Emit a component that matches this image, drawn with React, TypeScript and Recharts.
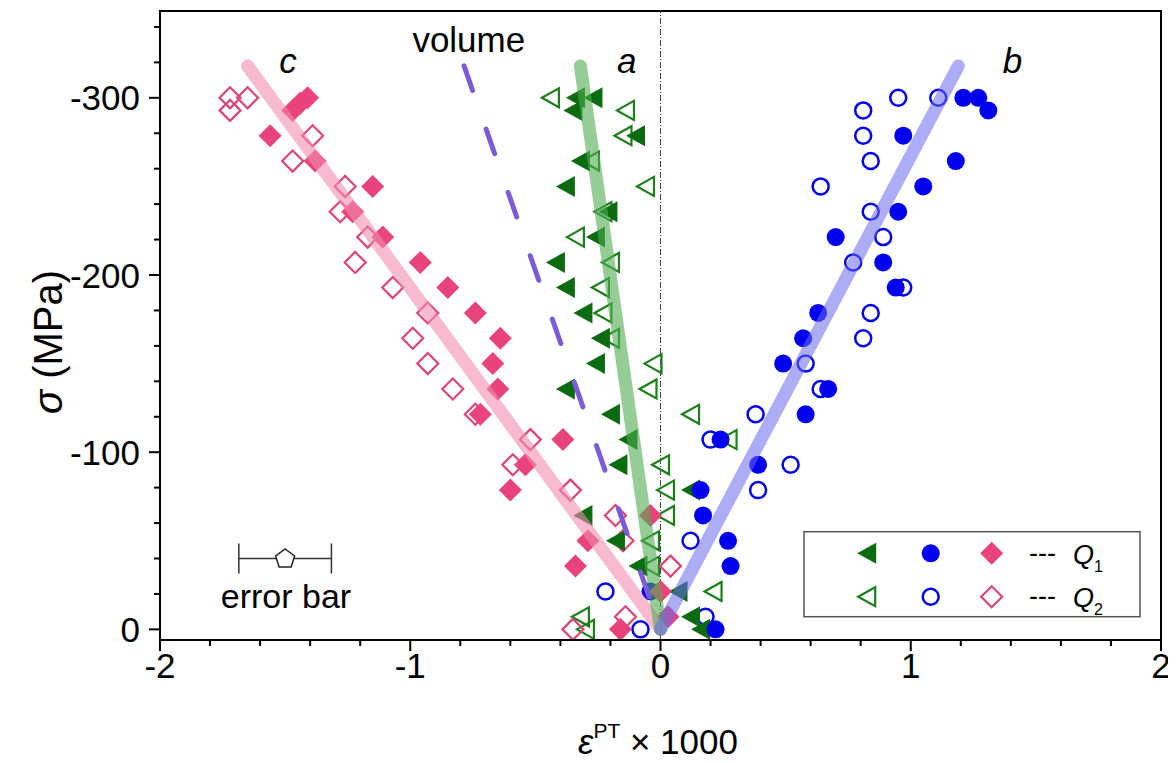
import React from "react";
import { ErrorBar, ReferenceLine, Scatter, ScatterChart, XAxis, YAxis } from "recharts";

const FONT = "'Liberation Sans', Arial, sans-serif";

const xDomain = [-2, 2];
const yDomain = [-349, 6];
const xMajor = [-2, -1, 0, 1, 2];
const xTicks = [-2, -1.8, -1.6, -1.4, -1.2, -1, -0.8, -0.6, -0.4, -0.2, 0, 0.2, 0.4, 0.6, 0.8, 1, 1.2, 1.4, 1.6, 1.8, 2];
const yMajor = [0, -100, -200, -300];
const yTicks = [0, -20, -40, -60, -80, -100, -120, -140, -160, -180, -200, -220, -240, -260, -280, -300, -320, -340];

// a-direction (green triangles)
const aQ1 = [
  { x: -0.34, y: -300 }, { x: -0.27, y: -300 }, { x: -0.35, y: -292.9 }, { x: -0.1, y: -278.6 },
  { x: -0.32, y: -264.3 }, { x: -0.38, y: -250 }, { x: -0.21, y: -235.7 }, { x: -0.26, y: -221.4 },
  { x: -0.42, y: -207.1 }, { x: -0.38, y: -192.9 }, { x: -0.31, y: -178.6 }, { x: -0.24, y: -164.3 },
  { x: -0.26, y: -150 }, { x: -0.38, y: -135.7 }, { x: -0.2, y: -121.4 }, { x: -0.13, y: -107.1 },
  { x: -0.17, y: -92.9 }, { x: 0.12, y: -78.6 }, { x: -0.31, y: -64.3 }, { x: -0.18, y: -50 },
  { x: -0.09, y: -35.7 }, { x: 0.07, y: -21.4 }, { x: 0.12, y: -7.1 }, { x: 0.16, y: 0 },
];
const aQ2 = [
  { x: -0.44, y: -300 }, { x: -0.14, y: -292.9 }, { x: -0.15, y: -278.6 }, { x: -0.28, y: -264.3 },
  { x: -0.06, y: -250 }, { x: -0.23, y: -235.7 }, { x: -0.34, y: -221.4 }, { x: -0.2, y: -207.1 },
  { x: -0.24, y: -192.9 }, { x: -0.23, y: -178.6 }, { x: -0.2, y: -164.3 }, { x: -0.03, y: -150 },
  { x: -0.05, y: -135.7 }, { x: 0.12, y: -121.4 }, { x: 0.27, y: -107.1 }, { x: 0, y: -92.9 },
  { x: 0.02, y: -78.6 }, { x: 0.02, y: -64.3 }, { x: -0.04, y: -50 }, { x: -0.04, y: -35.7 },
  { x: 0.21, y: -21.4 }, { x: -0.32, y: -7.1 }, { x: -0.3, y: 0 },
];

// b-direction (blue circles)
const bQ1 = [
  { x: 1.21, y: -300 }, { x: 1.27, y: -300 }, { x: 1.31, y: -292.9 }, { x: 0.97, y: -278.6 },
  { x: 1.18, y: -264.3 }, { x: 1.05, y: -250 }, { x: 0.95, y: -235.7 }, { x: 0.7, y: -221.4 },
  { x: 0.89, y: -207.1 }, { x: 0.94, y: -192.9 }, { x: 0.63, y: -178.6 }, { x: 0.57, y: -164.3 },
  { x: 0.49, y: -150 }, { x: 0.67, y: -135.7 }, { x: 0.58, y: -121.4 }, { x: 0.24, y: -107.1 },
  { x: 0.39, y: -92.9 }, { x: 0.16, y: -78.6 }, { x: 0.17, y: -64.3 }, { x: 0.27, y: -50 },
  { x: 0.28, y: -35.7 }, { x: -0.04, y: -21.4 }, { x: 0.22, y: 0 },
];
const bQ2 = [
  { x: 0.95, y: -300 }, { x: 1.11, y: -300 }, { x: 0.81, y: -292.9 }, { x: 0.81, y: -278.6 },
  { x: 0.84, y: -264.3 }, { x: 0.64, y: -250 }, { x: 0.84, y: -235.7 }, { x: 0.89, y: -221.4 },
  { x: 0.77, y: -207.1 }, { x: 0.97, y: -192.9 }, { x: 0.84, y: -178.6 }, { x: 0.81, y: -164.3 },
  { x: 0.58, y: -150 }, { x: 0.64, y: -135.7 }, { x: 0.38, y: -121.4 }, { x: 0.2, y: -107.1 },
  { x: 0.52, y: -92.9 }, { x: 0.39, y: -78.6 }, { x: 0.12, y: -50 }, { x: -0.22, y: -21.4 },
  { x: 0.18, y: -7.1 }, { x: -0.08, y: 0 },
];

// c-direction (pink diamonds)
const cQ1 = [
  { x: -1.41, y: -300 }, { x: -1.44, y: -297 }, { x: -1.47, y: -292.9 }, { x: -1.56, y: -278.6 },
  { x: -1.38, y: -264.3 }, { x: -1.15, y: -250 }, { x: -1.23, y: -235.7 }, { x: -1.11, y: -221.4 },
  { x: -0.96, y: -207.1 }, { x: -0.85, y: -192.9 }, { x: -0.74, y: -178.6 }, { x: -0.64, y: -164.3 },
  { x: -0.67, y: -150 }, { x: -0.65, y: -135.7 }, { x: -0.72, y: -121.4 }, { x: -0.39, y: -107.1 },
  { x: -0.54, y: -92.9 }, { x: -0.6, y: -78.6 }, { x: -0.04, y: -64.3 }, { x: -0.29, y: -50 },
  { x: -0.34, y: -35.7 }, { x: 0, y: -21.4 }, { x: 0.03, y: -7.1 }, { x: -0.16, y: 0 },
];
const cQ2 = [
  { x: -1.72, y: -300 }, { x: -1.65, y: -300 }, { x: -1.72, y: -292.9 }, { x: -1.39, y: -278.6 },
  { x: -1.47, y: -264.3 }, { x: -1.26, y: -250 }, { x: -1.28, y: -235.7 }, { x: -1.17, y: -221.4 },
  { x: -1.22, y: -207.1 }, { x: -1.07, y: -192.9 }, { x: -0.93, y: -178.6 }, { x: -0.99, y: -164.3 },
  { x: -0.93, y: -150 }, { x: -0.83, y: -135.7 }, { x: -0.74, y: -121.4 }, { x: -0.52, y: -107.1 },
  { x: -0.59, y: -92.9 }, { x: -0.36, y: -78.6 }, { x: -0.18, y: -64.3 }, { x: -0.15, y: -50 },
  { x: 0.04, y: -35.7 }, { x: -0.14, y: -7.1 }, { x: -0.35, y: 0 },
];

// fitted guide lines
const lineA = [{ x: -0.32, y: -318 }, { x: 0, y: 0 }];
const lineB = [{ x: 0, y: 0 }, { x: 1.19, y: -318 }];
const lineC = [{ x: -1.65, y: -318 }, { x: 0, y: 0 }];
const lineVolume = [{ x: -0.785, y: -318 }, { x: 0, y: 0 }];

const errorSample = [{ x: -1.5, y: -40, err: 0.185 }];

const GREEN = "#0b6b10";
const GREEN_OPEN = "#1e7e1e";
const BLUE = "#0000f0";
const PINK = "#e8447a";
const PINK_OPEN = "#dc4677";

type P = { cx?: number; cy?: number };

const TriFilled = ({ cx = 0, cy = 0 }: P) => (
  <polygon points={`${cx - 9.5},${cy} ${cx + 9.5},${cy - 10.5} ${cx + 9.5},${cy + 10.5}`} fill={GREEN} />
);
const TriOpen = ({ cx = 0, cy = 0 }: P) => (
  <polygon
    points={`${cx - 8.5},${cy} ${cx + 8.5},${cy - 9.5} ${cx + 8.5},${cy + 9.5}`}
    fill="none"
    stroke={GREEN_OPEN}
    strokeWidth={2.2}
  />
);
const CircFilled = ({ cx = 0, cy = 0 }: P) => <circle cx={cx} cy={cy} r={9} fill={BLUE} />;
const CircOpen = ({ cx = 0, cy = 0 }: P) => (
  <circle cx={cx} cy={cy} r={8} fill="none" stroke={BLUE} strokeWidth={2.5} />
);
const DiaFilled = ({ cx = 0, cy = 0 }: P) => (
  <polygon points={`${cx},${cy - 11.5} ${cx + 11.5},${cy} ${cx},${cy + 11.5} ${cx - 11.5},${cy}`} fill={PINK} />
);
const DiaOpen = ({ cx = 0, cy = 0 }: P) => (
  <polygon
    points={`${cx},${cy - 10.5} ${cx + 10.5},${cy} ${cx},${cy + 10.5} ${cx - 10.5},${cy}`}
    fill="none"
    stroke={PINK_OPEN}
    strokeWidth={2.2}
  />
);
const Pentagon = ({ cx = 0, cy = 0 }: P) => (
  <polygon
    points={`${cx},${cy - 9.5} ${cx + 9.5},${cy - 2.5} ${cx + 6},${cy + 8.5} ${cx - 6},${cy + 8.5} ${cx - 9.5},${cy - 2.5}`}
    fill="#fff"
    stroke="#222"
    strokeWidth={1.5}
  />
);
const NoShape = () => <g />;

const XTick = (props: any) => {
  const { x, y, payload } = props;
  const major = xMajor.includes(payload.value);
  return (
    <g>
      <line x1={x} x2={x} y1={y} y2={y + (major ? 11 : 6)} stroke="#000" strokeWidth={2} />
      {major && (
        <text x={x} y={y + 38} textAnchor="middle" fontSize={35} fontFamily={FONT} fill="#000">
          {payload.value}
        </text>
      )}
    </g>
  );
};

const YTick = (props: any) => {
  const { x, y, payload } = props;
  const major = yMajor.includes(payload.value);
  return (
    <g>
      <line x1={x - (major ? 11 : 6)} x2={x} y1={y} y2={y} stroke="#000" strokeWidth={2} />
      {major && (
        <text x={x - 20} y={y + 12.5} textAnchor="end" fontSize={35} fontFamily={FONT} fill="#000">
          {payload.value}
        </text>
      )}
    </g>
  );
};

const W = 1166;
const H = 747;
const M = { top: 3, right: 13, bottom: 0, left: 0 };
const Y_AXIS_W = 152;
const X_AXIS_H = 115;
// plot box, for the frame
const plot = {
  x: M.left + Y_AXIS_W,
  y: M.top,
  w: W - M.left - M.right - Y_AXIS_W,
  h: H - M.top - M.bottom - X_AXIS_H,
};

export default function App() {
  return (
    <div style={{ position: "relative", width: W, height: H, background: "#fff" }}>
      <ScatterChart width={W} height={H} margin={M}>
        <XAxis
          type="number"
          dataKey="x"
          domain={xDomain}
          ticks={xTicks}
          interval={0}
          tick={(p: any) => <XTick {...p} />}
          tickLine={false}
          tickSize={0}
          tickMargin={0}
          height={X_AXIS_H}
          allowDataOverflow
          axisLine={{ stroke: "#000", strokeWidth: 2 }}
        />
        <YAxis
          type="number"
          dataKey="y"
          domain={yDomain}
          reversed
          ticks={yTicks}
          interval={0}
          tick={(p: any) => <YTick {...p} />}
          tickLine={false}
          tickSize={0}
          tickMargin={0}
          width={Y_AXIS_W}
          allowDataOverflow
          axisLine={{ stroke: "#000", strokeWidth: 2 }}
        />
        <ReferenceLine x={0} stroke="#444" strokeWidth={1} strokeDasharray="6 2 1 2" />

        <Scatter data={aQ2} shape={TriOpen} isAnimationActive={false} />
        <Scatter data={bQ2} shape={CircOpen} isAnimationActive={false} />
        <Scatter data={cQ2} shape={DiaOpen} isAnimationActive={false} />
        <Scatter data={aQ1} shape={TriFilled} isAnimationActive={false} />
        <Scatter data={bQ1} shape={CircFilled} isAnimationActive={false} />
        <Scatter data={cQ1} shape={DiaFilled} isAnimationActive={false} />

        <Scatter
          data={lineC}
          shape={NoShape}
          line={{ stroke: "#f28cb0", strokeOpacity: 0.6, strokeWidth: 13, strokeLinecap: "round" }}
          isAnimationActive={false}
        />
        <Scatter
          data={lineA}
          shape={NoShape}
          line={{ stroke: "#50ac50", strokeOpacity: 0.6, strokeWidth: 13, strokeLinecap: "round" }}
          isAnimationActive={false}
        />
        <Scatter
          data={lineB}
          shape={NoShape}
          line={{ stroke: "#6a6af0", strokeOpacity: 0.55, strokeWidth: 13, strokeLinecap: "round" }}
          isAnimationActive={false}
        />
        <Scatter
          data={lineVolume}
          shape={NoShape}
          line={{ stroke: "#7b5cd6", strokeWidth: 5, strokeLinecap: "round", strokeDasharray: "26 41" }}
          isAnimationActive={false}
        />

        <Scatter data={errorSample} shape={Pentagon} isAnimationActive={false}>
          <ErrorBar dataKey="err" direction="x" width={15} stroke="#333" strokeWidth={1.5} />
        </Scatter>
      </ScatterChart>

      {/* plot frame */}
      <div
        style={{
          position: "absolute",
          left: plot.x - 1,
          top: plot.y - 1,
          width: plot.w + 2,
          height: plot.h + 2,
          boxSizing: "border-box",
          border: "2px solid #000",
          pointerEvents: "none",
        }}
      />

      <svg
        width={W}
        height={755}
        style={{ position: "absolute", left: 0, top: 0, pointerEvents: "none", overflow: "visible" }}
        fontFamily={FONT}
      >
        <line x1={plot.x} x2={plot.x + plot.w} y1={plot.y} y2={plot.y} stroke="#000" strokeWidth={2} />
        <line
          x1={plot.x + plot.w}
          x2={plot.x + plot.w}
          y1={plot.y}
          y2={plot.y + plot.h}
          stroke="#000"
          strokeWidth={2}
        />

        <text x={280} y={64.7} fontSize={35} fontStyle="italic" textAnchor="middle">c</text>
        <text x={460.8} y={43.7} fontSize={35} textAnchor="middle">volume</text>
        <text x={618.7} y={64.7} fontSize={35} fontStyle="italic" textAnchor="middle">a</text>
        <text x={1004.4} y={64.7} fontSize={35} fontStyle="italic" textAnchor="middle">b</text>
        <text x={278} y={600} fontSize={34} textAnchor="middle">error bar</text>

        <text x={650} y={746} fontSize={35} textAnchor="middle">
          <tspan fontStyle="italic">ε</tspan>
          <tspan dy={-16} fontSize={21}>PT</tspan>
          <tspan dy={16}> × 1000</tspan>
        </text>
        <text
          x={40}
          y={334}
          fontSize={40}
          textAnchor="middle"
          dominantBaseline="central"
          transform="rotate(-90 40 334)"
        >
          <tspan fontStyle="italic">σ</tspan> (MPa)
        </text>

        <rect x={796} y={523.7} width={336} height={85} fill="#fff" stroke="#555" strokeWidth={1.5} />
        <TriFilled cx={858.7} cy={545.3} />
        <CircFilled cx={922.7} cy={545.3} />
        <DiaFilled cx={983.7} cy={545.3} />
        <TriOpen cx={858.7} cy={588.7} />
        <CircOpen cx={922.7} cy={588.7} />
        <DiaOpen cx={983.7} cy={588.7} />
        <text x={1034.5} y={554} fontSize={27} textAnchor="middle">---</text>
        <text x={1034.5} y={597} fontSize={27} textAnchor="middle">---</text>
        <text x={1065} y={556} fontSize={27} fontStyle="italic">
          Q<tspan dy={8} fontSize={16} fontStyle="normal">1</tspan>
        </text>
        <text x={1065} y={599} fontSize={27} fontStyle="italic">
          Q<tspan dy={8} fontSize={16} fontStyle="normal">2</tspan>
        </text>
      </svg>
    </div>
  );
}
